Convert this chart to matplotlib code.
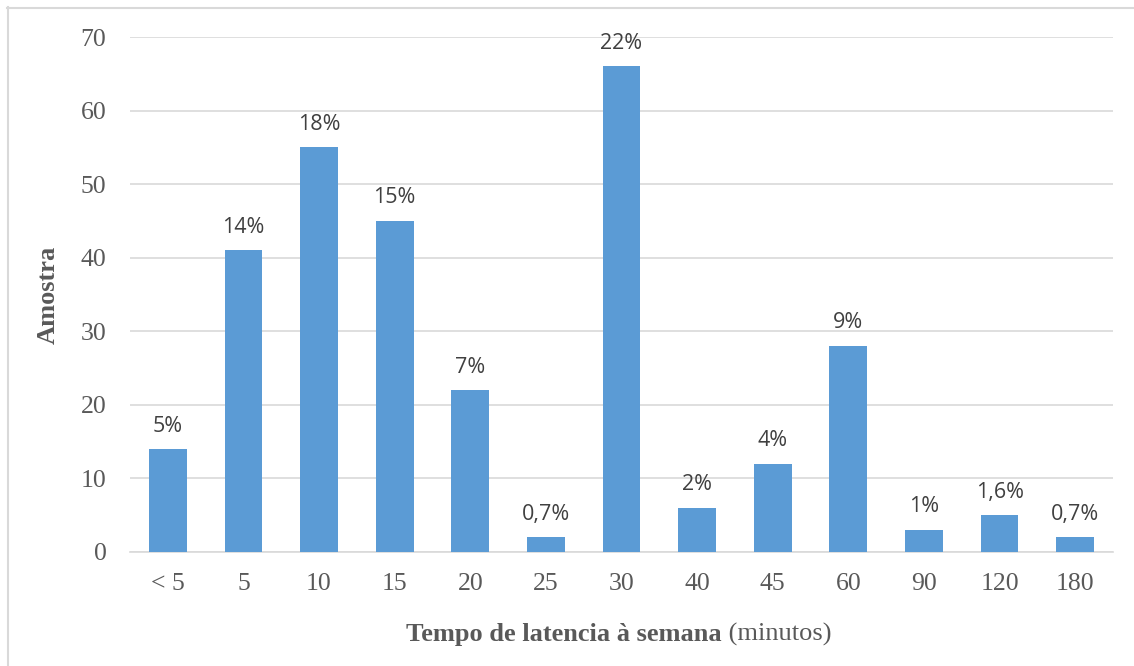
import matplotlib.pyplot as plt
from matplotlib.lines import Line2D

categories = ["< 5", "5", "10", "15", "20", "25", "30", "40", "45", "60", "90", "120", "180"]
amostra = [14, 41, 55, 45, 22, 2, 66, 6, 12, 28, 3, 5, 2]
percent_labels = ["5%", "14%", "18%", "15%", "7%", "0,7%", "22%", "2%", "4%", "9%", "1%", "1,6%", "0,7%"]

W, H = 1134, 666
fig = plt.figure(figsize=(W / 100, H / 100), dpi=100)
ax = fig.add_axes([130 / W, 1 - 552 / H, (1113 - 130) / W, (552 - 37) / H])

serif = "Liberation Serif"
text_grey = "#595959"

x = range(len(categories))
ax.bar(x, amostra, width=0.5, color="#5B9BD5", zorder=3)

for xi, v, lab in zip(x, amostra, percent_labels):
    ax.annotate(lab, (xi, v), xytext=(0, 9), textcoords="offset points",
                ha="center", va="bottom", fontsize=15.5, family="Open Sans",
                color="#404040")

ax.set_xlim(-0.5, len(categories) - 0.5)
ax.set_ylim(0, 70)
ax.set_yticks(range(0, 71, 10))
ax.set_xticks(list(x))
ax.set_xticklabels(categories)
ax.yaxis.grid(True, color="#D9D9D9", linewidth=1.2, zorder=0)
ax.set_axisbelow(True)

for side in ["top", "right", "left"]:
    ax.spines[side].set_visible(False)
ax.spines["bottom"].set_color("#D9D9D9")
ax.spines["bottom"].set_linewidth(1.2)
ax.tick_params(length=0, labelsize=18.5, colors=text_grey)
ax.tick_params(axis="y", pad=17)
ax.tick_params(axis="x", pad=15)
for t in ax.get_xticklabels() + ax.get_yticklabels():
    t.set_family(serif)

ax.set_ylabel("Amostra", family=serif, fontsize=19, fontweight="bold",
              color=text_grey)
ax.yaxis.set_label_coords(60 / W, 1 - 295 / H, transform=fig.transFigure)

# x-axis title: bold part followed by regular "(minutos)"
bold = fig.text(406 / W, 1 - 641 / H, "Tempo de latencia à semana", family=serif,
                fontsize=19, fontweight="bold", color=text_grey, va="baseline")
ax.annotate(" (minutos)", xy=(1, 0), xycoords=bold, va="bottom", ha="left",
            family=serif, fontsize=19, color=text_grey, annotation_clip=False)

# outer frame (top and left edges)
fig.add_artist(Line2D([7 / W, 1], [1 - 7.5 / H, 1 - 7.5 / H], color="#D9D9D9",
                      linewidth=1.5, transform=fig.transFigure))
fig.add_artist(Line2D([7.5 / W, 7.5 / W], [0, 1 - 7 / H], color="#D9D9D9",
                      linewidth=1.5, transform=fig.transFigure))

fig.savefig("out.png", dpi=100)
